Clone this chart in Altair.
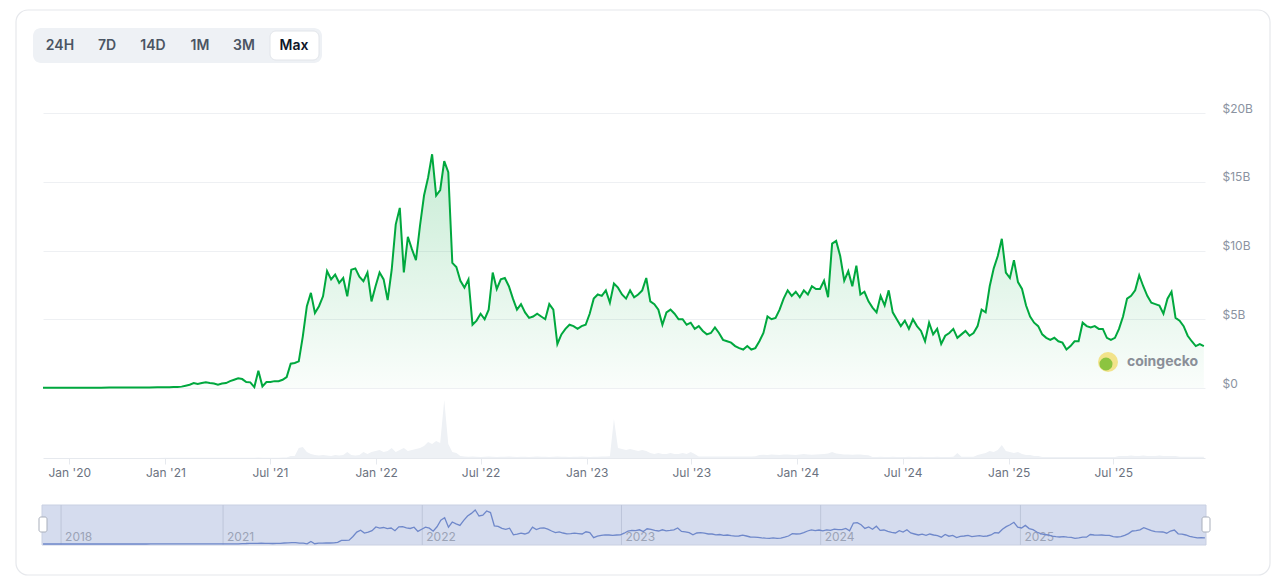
import altair as alt
import pandas as pd

# ---------------- data ----------------
# monthly points before 2021 (market cap, $B)
pre_dates = pd.date_range("2017-09-01", "2020-12-01", freq="MS").strftime("%Y-%m-%d").tolist()
pre_cap = [0.0, 0.0, 0.0, 0.0, 0.0, 0.0, 0.0, 0.0, 0.0, 0.0, 0.0, 0.0,
           0.0, 0.0, 0.0, 0.0, 0.01, 0.01, 0.01, 0.01, 0.01, 0.01, 0.01, 0.01,
           0.02, 0.02, 0.02, 0.02, 0.02, 0.02, 0.02, 0.02, 0.02, 0.03, 0.03, 0.03,
           0.03, 0.04, 0.04, 0.05]
pre_vol = [0.0] * len(pre_dates)

# weekly points from Jan 2021 (market cap, $B)
wk_dates = pd.date_range("2021-01-01", periods=258, freq="7D").strftime("%Y-%m-%d").tolist()
wk_cap = [
    0.05, 0.06, 0.07, 0.08, 0.10, 0.17, 0.24, 0.36, 0.29, 0.36,
    0.41, 0.36, 0.32, 0.24, 0.32, 0.36, 0.50, 0.60, 0.70, 0.65,
    0.44, 0.41, 0.07, 1.26, 0.12, 0.44, 0.44, 0.50, 0.50, 0.60,
    0.80, 1.77, 1.82, 1.94, 3.76, 5.95, 6.92, 5.46, 5.95, 6.67,
    8.50, 7.90, 8.25, 7.65, 8.00, 6.67, 8.60, 8.70, 8.10, 7.77,
    8.40, 6.30, 7.40, 8.40, 7.90, 6.40, 8.60, 11.9, 13.1, 8.40,
    11.0, 10.1, 9.30, 11.8, 14.0, 15.3, 17.0, 14.0, 14.4, 16.5,
    15.7, 9.1, 8.8, 7.8, 7.3, 7.9, 4.6, 4.9, 5.4, 5.0,
    5.7, 8.4, 7.2, 7.9, 8.0, 7.4, 6.5, 5.7, 6.1, 5.5,
    5.1, 5.2, 5.4, 5.2, 5.0, 6.1, 5.7, 3.2, 3.9, 4.3,
    4.6, 4.5, 4.3, 4.5, 4.6, 5.4, 6.5, 6.8, 6.7, 7.1,
    6.2, 7.6, 7.3, 6.8, 6.5, 7.1, 6.6, 6.8, 7.1, 8.0,
    6.3, 6.1, 5.7, 4.6, 5.5, 5.7, 5.4, 5.0, 5.0, 4.6,
    4.75, 4.3, 4.5, 4.15, 3.9, 4.0, 4.4, 4.0, 3.5, 3.4,
    3.3, 3.05, 2.9, 2.8, 3.05, 2.8, 2.9, 3.4, 4.0, 5.2,
    5.0, 5.1, 5.7, 6.5, 7.1, 6.7, 7.0, 6.6, 7.1, 6.8,
    7.4, 7.2, 7.2, 7.8, 6.6, 10.5, 10.7, 9.6, 7.8, 8.5,
    7.4, 8.9, 6.8, 7.0, 6.3, 5.85, 5.5, 6.7, 6.0, 7.1,
    5.5, 5.0, 4.5, 4.9, 4.3, 5.0, 4.5, 4.15, 3.4, 4.75,
    3.9, 4.3, 3.2, 3.8, 4.0, 4.3, 3.65, 3.9, 4.15, 3.8,
    4.0, 4.5, 5.7, 5.5, 7.4, 8.7, 9.6, 10.85, 8.4, 8.0,
    9.3, 7.7, 7.2, 6.0, 5.2, 4.75, 4.5, 3.9, 3.65, 3.5,
    3.65, 3.4, 3.3, 2.8, 3.05, 3.4, 3.4, 4.75, 4.5, 4.4,
    4.5, 4.3, 4.3, 3.65, 3.5, 3.65, 4.3, 5.2, 6.5, 6.7,
    7.1, 8.2, 7.4, 6.7, 6.2, 6.1, 6.0, 5.4, 6.5, 7.0,
    5.1, 4.9, 4.5, 3.8, 3.4, 3.05, 3.2, 3.05,
]
# weekly trading volume ($B)
wk_vol = [
    0.1, 0.1, 0.1, 0.1, 0.1, 0.1, 0.1, 0.1, 0.1, 0.1,
    0.1, 0.1, 0.1, 0.1, 0.1, 0.1, 0.1, 0.1, 0.1, 0.1,
    0.1, 0.1, 0.1, 0.2, 0.1, 0.1, 0.1, 0.1, 0.1, 0.2,
    0.3, 1.0, 1.0, 5.0, 5.5, 3.0, 2.0, 1.5, 1.2, 1.5,
    1.2, 1.0, 1.5, 1.2, 1.5, 3.0, 1.5, 1.2, 1.5, 3.0,
    2.0, 3.0, 3.5, 4.0, 3.0, 3.5, 5.0, 3.0, 4.0, 5.0,
    3.5, 4.0, 4.5, 5.0, 6.0, 8.0, 7.0, 8.5, 7.5, 29.0,
    7.0, 3.0, 2.5, 1.0, 0.8, 0.6, 0.7, 0.6, 0.5, 0.6,
    0.7, 0.6, 0.5, 0.6, 0.6, 0.7, 0.6, 0.5, 0.6, 0.6,
    0.5, 0.6, 0.7, 0.6, 0.6, 0.5, 0.6, 0.7, 0.6, 0.6,
    0.5, 0.6, 0.6, 0.7, 0.6, 0.5, 0.6, 0.6, 0.7, 0.8,
    0.9, 19.5, 5.0, 4.5, 4.0, 4.5, 4.0, 3.5, 4.0, 3.5,
    2.5, 2.0, 2.5, 2.0, 2.0, 2.5, 2.0, 2.0, 2.5, 2.0,
    3.0, 2.0, 0.8, 0.8, 0.7, 0.8, 0.8, 0.7, 0.8, 0.8,
    0.7, 0.8, 0.8, 0.7, 0.8, 0.8, 0.9, 1.5, 1.6, 1.5,
    1.8, 1.6, 1.5, 1.7, 1.8, 1.6, 1.5, 1.7, 2.0, 1.8,
    1.6, 1.7, 1.9, 2.0, 2.2, 3.0, 2.2, 2.0, 1.8, 1.7,
    1.6, 1.8, 1.7, 1.5, 1.4, 0.5, 0.5, 0.6, 0.5, 0.5,
    0.6, 0.5, 0.5, 0.5, 0.6, 0.5, 0.5, 0.6, 0.5, 0.5,
    0.5, 0.6, 0.5, 0.5, 0.5, 0.6, 2.5, 0.6, 0.6, 0.6,
    0.6, 1.5, 2.0, 2.5, 3.5, 3.0, 4.0, 6.5, 3.5, 3.0,
    2.5, 3.0, 2.0, 1.5, 1.5, 1.0, 1.0, 0.5, 0.5, 0.5,
    0.5, 0.5, 0.5, 0.5, 0.5, 0.5, 0.5, 0.5, 0.5, 0.5,
    0.5, 0.5, 0.5, 0.5, 0.5, 0.5, 1.0, 1.0, 1.0, 1.2,
    1.0, 1.0, 1.2, 1.0, 1.0, 1.0, 1.2, 1.0, 1.0, 1.0,
    1.0, 0.6, 0.6, 0.6, 0.6, 0.6, 0.6, 0.6,
]

# x-axis tick dates and navigator year labels
tick_dates = ["2020-01-01", "2021-01-01", "2021-07-01", "2022-01-01", "2022-07-01",
              "2023-01-01", "2023-07-01", "2024-01-01", "2024-07-01", "2025-01-01",
              "2025-07-01"]
nav_years = ["2018", "2021", "2022", "2023", "2024", "2025"]
y_ticks = [0, 5, 10, 15, 20]
buttons = ["24H", "7D", "14D", "1M", "3M", "Max"]

# ---------------- time axis (ordinal-like: sparse early history is compressed) ----------------
T0 = pd.Timestamp("2021-01-01")
K_MAIN = 0.4552   # squeeze factor before 2021 on the main chart
K_NAV = 0.2708    # squeeze factor before 2021 on the navigator


def axis_pos(date_str, k):
    d = (pd.Timestamp(date_str) - T0).days
    return d * k if d < 0 else d


main_dom = [axis_pos("2019-09-23", K_MAIN), axis_pos("2025-12-07", K_MAIN)]
nav_dom = [axis_pos("2017-08-25", K_NAV), axis_pos("2025-12-07", K_NAV)]
tick_vals = [axis_pos(d, K_MAIN) for d in tick_dates]

T0_MS = 1609459200000
pos_expr = ("(toDate(datum.date) - {t}) / 864e5 < 0 ? "
            "(toDate(datum.date) - {t}) / 864e5 * {k} : (toDate(datum.date) - {t}) / 864e5")
label_expr = ("utcFormat(datum.value < 0 ? {t} + datum.value / {k} * 864e5 : "
              "{t} + datum.value * 864e5, \"%b '%y\")").format(t=T0_MS, k=K_MAIN)

# ---------------- frames ----------------
df = pd.DataFrame({
    "date": pre_dates + wk_dates,
    "cap": pre_cap + wk_cap,
    "vol": pre_vol + wk_vol,
})
nav_df = pd.DataFrame({"year": nav_years, "date": [y + "-01-01" for y in nav_years]})
one = pd.DataFrame({"k": [0]})

FONT = "Inter"
GREEN = "#00a83e"

# plot origin = image (43,113)
main_x_scale = alt.Scale(domain=main_dom, range=[0, 1162], nice=False, zero=False)
nav_x_scale = alt.Scale(domain=nav_dom, range=[-1, 1163], nice=False, zero=False)
main_y_scale = alt.Scale(domain=[0, 20], range=[275, 0], nice=False, zero=True)
vol_y_scale = alt.Scale(domain=[0, 31.5], range=[345, 282], nice=False, zero=True)
nav_y_scale = alt.Scale(domain=[0, 20], range=[431, 391], nice=False, zero=True)


def main_base(data):
    return alt.Chart(data).transform_calculate(
        pos=pos_expr.format(t=T0_MS, k=K_MAIN))


def nav_base(data):
    return alt.Chart(data).transform_calculate(
        npos=pos_expr.format(t=T0_MS, k=K_NAV))


def box(x, x2, y, y2, **kw):
    return alt.Chart(one).mark_rect(**kw).encode(
        x=alt.value(x), x2=alt.value(x2), y=alt.value(y), y2=alt.value(y2))


# decorations: card and range buttons
card = box(-27, 1227, -103, 462, fill="#ffffff", fillOpacity=0, stroke="#e6e8ec",
           strokeWidth=1.2, cornerRadius=12)
btn_bar = box(-10, 279, -85, -50, fill="#eef1f5", cornerRadius=8)
btn_max = box(227, 276, -82, -53, fill="#ffffff", stroke="#e2e5ea", cornerRadius=6)
btn_x = {"24H": 17, "7D": 64, "14D": 110, "1M": 157, "3M": 201, "Max": 251}
btn_layers = []
for b in buttons:
    btn_layers.append(
        alt.Chart(one).mark_text(text=b, font=FONT, fontSize=14, fontWeight=600,
                                 color="#0f172a" if b == "Max" else "#4b5563",
                                 align="center", baseline="middle")
        .encode(x=alt.value(btn_x[b]), y=alt.value(-67)))

# volume (carries the main x axis)
vol = main_base(df).mark_area(color="#eef1f5", clip=True).encode(
    x=alt.X("pos:Q", scale=main_x_scale,
            axis=alt.Axis(orient="bottom", offset=-87, values=tick_vals,
                          labelExpr=label_expr, grid=False, domain=True,
                          domainColor="#e6e9ee", ticks=True, tickColor="#e6e9ee", tickSize=6,
                          labelPadding=3, labelFont=FONT, labelFontSize=12,
                          labelColor="#6b7280", title=None, labelFlush=False)),
    y=alt.Y("vol:Q", scale=vol_y_scale, axis=None),
)

area = main_base(df).mark_area(
    clip=True,
    color=alt.Gradient(gradient="linear",
                       stops=[alt.GradientStop(color="rgba(0,168,62,0.22)", offset=0),
                              alt.GradientStop(color="rgba(0,168,62,0.02)", offset=1)],
                       x1=0, x2=0, y1=0, y2=1),
).encode(
    x=alt.X("pos:Q", scale=main_x_scale, axis=None),
    y=alt.Y("cap:Q", scale=main_y_scale, axis=None),
)

line = main_base(df).mark_line(color=GREEN, strokeWidth=2, clip=True).encode(
    x=alt.X("pos:Q", scale=main_x_scale, axis=None),
    y=alt.Y("cap:Q", scale=main_y_scale,
            axis=alt.Axis(orient="right", values=y_ticks, grid=True, gridColor="#eef0f3",
                          domain=False, ticks=False, labelPadding=17, labelFont=FONT,
                          labelFontSize=12, labelColor="#8b93a1", labelAlign="left",
                          labelBaseline="middle", labelOffset=-5, title=None,
                          labelExpr="datum.value == 0 ? '$0' : '$' + datum.value + 'B'")),
)

# watermark
wm_circle = alt.Chart(one).mark_circle(color="#f2e38a", opacity=1, size=400).encode(
    x=alt.value(1065), y=alt.value(249))
wm_inner = alt.Chart(one).mark_circle(color="#8cc440", opacity=1, size=170).encode(
    x=alt.value(1063), y=alt.value(251))
wm_text = alt.Chart(one).mark_text(text="coingecko", font=FONT, fontSize=14, fontWeight=700,
                                   color="#8a8f98", align="left", baseline="middle").encode(
    x=alt.value(1084), y=alt.value(249))

# navigator
nav_box = box(-1, 1163, 392, 432, fill="#d5dcee", stroke="#c9d0e2", strokeWidth=1)
nav_rules = nav_base(nav_df).mark_rule(color="#bdc5d9", strokeWidth=1).encode(
    x=alt.X("npos:Q", scale=nav_x_scale, axis=None),
    y=alt.value(392), y2=alt.value(432))
nav_labels = nav_base(nav_df).mark_text(font=FONT, fontSize=12, color="#9ba3b6",
                                        align="left", baseline="middle", dx=4).encode(
    x=alt.X("npos:Q", scale=nav_x_scale, axis=None),
    y=alt.value(424), text="year:N")
nav_line = nav_base(df).mark_line(color="#6f88ca", strokeWidth=1.3).encode(
    x=alt.X("npos:Q", scale=nav_x_scale, axis=None),
    y=alt.Y("cap:Q", scale=nav_y_scale, axis=None))
h_left = box(-4, 4, 404, 419, fill="#ffffff", stroke="#a9afbb", strokeWidth=1, cornerRadius=2)
h_right = box(1159, 1167, 404, 419, fill="#ffffff", stroke="#a9afbb", strokeWidth=1, cornerRadius=2)

chart = alt.layer(
    card, btn_bar, btn_max, *btn_layers,
    vol, area, line,
    wm_circle, wm_inner, wm_text,
    nav_box, nav_rules, nav_labels, nav_line, h_left, h_right,
).resolve_scale(x="independent", y="independent").properties(
    width=1162, height=432,
    padding={"left": 35, "top": 105, "right": 66, "bottom": 31},
    autosize="none",
    background="#ffffff",
).configure_view(strokeWidth=0)

chart.save("out.html", embed_options={"renderer": "svg", "actions": False})
